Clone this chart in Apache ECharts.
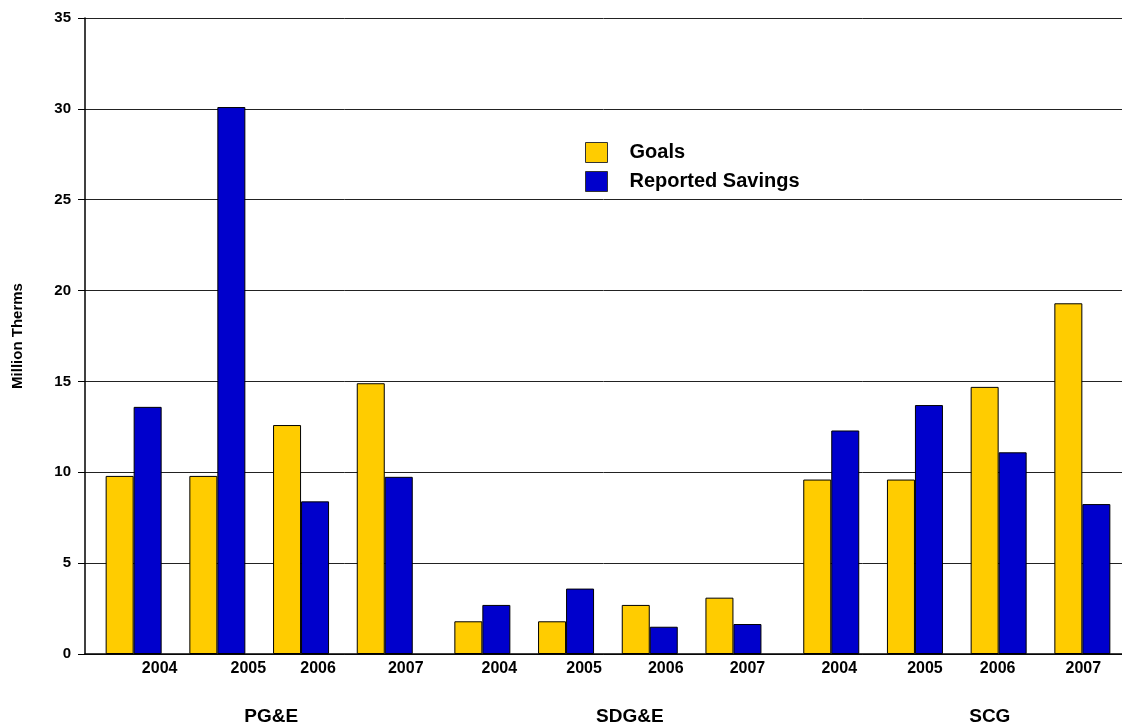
<!DOCTYPE html>
<html>
<head>
<meta charset="utf-8">
<script src="https://cdn.jsdelivr.net/npm/echarts@6/dist/echarts.min.js"></script>
<style>
  html, body { margin: 0; padding: 0; background: #fff; }
  #chart { width: 1122px; height: 727px; }
</style>
</head>
<body>
<div id="chart"></div>
<script>
// Natural gas savings by utility, 2004-2007 (million therms)
const years = ['2004', '2005', '2006', '2007'];
const companies = ['PG&E', 'SDG&E', 'SCG'];
const yTicks = [0, 5, 10, 15, 20, 25, 30, 35];

const goalsPGE = [9.8, 9.8, 12.6, 14.9];
const reportedPGE = [13.6, 30.1, 8.4, 9.75];
const goalsSDGE = [1.8, 1.8, 2.7, 3.1];
const reportedSDGE = [2.7, 3.6, 1.5, 1.65];
const goalsSCG = [9.6, 9.6, 14.7, 19.3];
const reportedSCG = [12.3, 13.7, 11.1, 8.25];

const goalsByCompany = [goalsPGE, goalsSDGE, goalsSCG];
const reportedByCompany = [reportedPGE, reportedSDGE, reportedSCG];

// Layout of the three company panels (px)
const PLOT_TOP = 18, PLOT_BOTTOM = 73, PLOT_LEFT = 85;
const panelLeft = [91.8, 440.5, 789.4];
const panelWidth = 334.8;
// nudges for the year labels and company names under each panel
const yearLabelShift = [[26, 31, 17, 21], [17, 18, 16, 14], [8, 10, -1, 1]];
const companyShift = [12, 22, 33];

const FONT = 'Liberation Sans, Arial, Helvetica, sans-serif';
const GOLD = '#FFCC00';
const BLUE = '#0000CC';
const yMin = yTicks[0], yMax = yTicks[yTicks.length - 1], yStep = yTicks[1] - yTicks[0];

const grids = [{
  left: PLOT_LEFT, right: 0, top: PLOT_TOP, bottom: PLOT_BOTTOM,
  containLabel: false, outerBoundsMode: 'none'
}];
const xAxes = [{
  gridIndex: 0, type: 'value', min: 0, max: 1,
  axisLine: { show: true, onZero: false, lineStyle: { color: '#000', width: 1.5 } },
  axisTick: { show: false }, axisLabel: { show: false }, splitLine: { show: false }
}];
const yAxes = [{
  gridIndex: 0, type: 'value', min: yMin, max: yMax, interval: yStep,
  name: 'Million Therms', nameLocation: 'middle', nameGap: 60,
  nameTextStyle: { fontFamily: FONT, fontWeight: 'bold', fontSize: 15, color: '#000' },
  axisLine: { show: true, lineStyle: { color: '#000', width: 1.5 } },
  axisTick: { show: true, length: 7, lineStyle: { color: '#000' } },
  axisLabel: { margin: 14, fontFamily: FONT, fontWeight: 'bold', fontSize: 15, color: '#000' },
  splitLine: { show: true, lineStyle: { color: '#222', width: 1 } }
}];
const series = [];

companies.forEach((company, c) => {
  const g = c + 1;
  grids.push({
    left: panelLeft[c], width: panelWidth, top: PLOT_TOP, bottom: PLOT_BOTTOM,
    containLabel: false, outerBoundsMode: 'none'
  });
  const rich = {};
  yearLabelShift[c].forEach((off, i) => {
    rich['y' + i] = {
      fontFamily: FONT, fontWeight: 'bold', fontSize: 16, color: '#000',
      padding: off >= 0 ? [0, 0, 0, 2 * off] : [0, -2 * off, 0, 0]
    };
  });
  const shift = companyShift[c];
  xAxes.push({
    gridIndex: g, type: 'category', data: years,
    name: company, nameLocation: 'middle', nameGap: 53,
    nameTextStyle: {
      fontFamily: FONT, fontWeight: 'bold', fontSize: 19, color: '#000',
      padding: [0, 0, 0, 2 * shift]
    },
    axisLine: { show: false }, axisTick: { show: false },
    axisLabel: {
      margin: 7, interval: 0,
      formatter: (v, i) => '{y' + i + '|' + v + '}',
      rich: rich
    }
  });
  yAxes.push({
    gridIndex: g, type: 'value', min: yMin, max: yMax, interval: yStep, show: false,
    splitLine: { show: false }
  });
  const barBase = {
    type: 'bar', xAxisIndex: g, yAxisIndex: g, barWidth: 28, barGap: '0%',
    animation: false
  };
  series.push(Object.assign({}, barBase, {
    name: 'Goals', data: goalsByCompany[c],
    itemStyle: { color: GOLD, borderColor: '#000', borderWidth: 1 }
  }));
  series.push(Object.assign({}, barBase, {
    name: 'Reported Savings', data: reportedByCompany[c],
    itemStyle: { color: BLUE, borderColor: '#000', borderWidth: 1 }
  }));
});

const chart = echarts.init(document.getElementById('chart'), null, { renderer: 'canvas' });
chart.setOption({
  backgroundColor: '#fff',
  animation: false,
  textStyle: { fontFamily: FONT },
  legend: {
    data: ['Goals', 'Reported Savings'],
    orient: 'vertical', left: 580, top: 137,
    icon: 'rect',
    itemWidth: 22, itemHeight: 20, itemGap: 8,
    selectedMode: false,
    itemStyle: { borderColor: '#333', borderWidth: 1 },
    textStyle: {
      fontFamily: FONT, fontWeight: 'bold', fontSize: 20, lineHeight: 20, color: '#000',
      padding: [0, 0, 0, 17]
    }
  },
  grid: grids,
  xAxis: xAxes,
  yAxis: yAxes,
  series: series
});
</script>
</body>
</html>
